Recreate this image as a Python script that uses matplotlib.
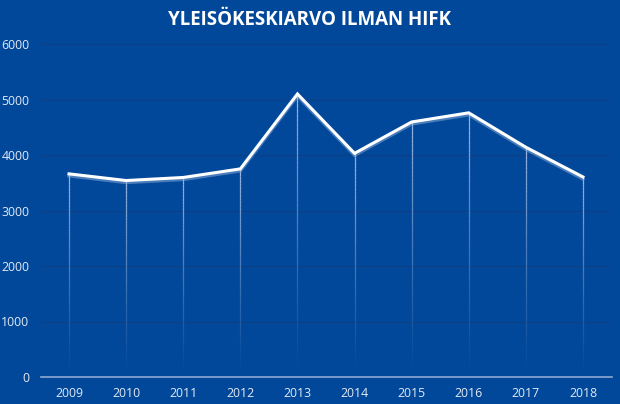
import numpy as np
import matplotlib
matplotlib.use("Agg")
import matplotlib.pyplot as plt
from matplotlib.collections import LineCollection

years = ['2009', '2010', '2011', '2012', '2013', '2014', '2015', '2016', '2017', '2018']
attendance = [3660, 3540, 3595, 3750, 5100, 4030, 4595, 4760, 4140, 3605]
yticks = [0, 1000, 2000, 3000, 4000, 5000, 6000]

bg = '#02489A'
plt.rcParams['font.family'] = ['Open Sans', 'DejaVu Sans']

fig = plt.figure(figsize=(6.2, 4.04), dpi=100, facecolor=bg)
ax = fig.add_axes([40.5 / 620, 1 - 377 / 404, 571 / 620, 333 / 404])
ax.set_facecolor(bg)

x = np.arange(len(years))

# drop lines fading towards the axis
for xi, yi in zip(x, attendance):
    n = 60
    ys = np.linspace(0, yi, n + 1)
    segs = [[(xi, ys[k]), (xi, ys[k + 1])] for k in range(n)]
    alphas = np.linspace(0.0, 0.75, n) ** 1.2
    cols = [(0.85, 0.9, 1, a) for a in alphas]
    ax.add_collection(LineCollection(segs, colors=cols, linewidths=0.9,
                                     capstyle='butt', zorder=2))

# soft shadow + main line
ax.plot(x, np.array(attendance) - 35, color='#8FB0DC', lw=2.5, alpha=0.5, zorder=3,
        solid_joinstyle='miter')
ax.plot(x, attendance, color='white', lw=2.2, zorder=4, solid_joinstyle='miter')

ax.set_xlim(-0.5, len(years) - 0.5)
ax.set_ylim(0, 6000)
ax.set_yticks(yticks)
ax.set_xticks(x)
ax.set_xticklabels(years)
ax.grid(axis='y', color='#0D3F85', lw=0.8, zorder=1)
ax.set_axisbelow(True)

for s in ['top', 'right', 'left']:
    ax.spines[s].set_visible(False)
ax.spines['bottom'].set_color('#8FA9D2')
ax.spines['bottom'].set_linewidth(1.2)
ax.tick_params(axis='both', length=0, colors='#E3EAF5', labelsize=8.8)
ax.tick_params(axis='y', pad=8)
ax.tick_params(axis='x', pad=7)

fig.text(0.5, 0.951, 'YLEISÖKESKIARVO ILMAN HIFK', ha='center', va='center',
         color='white', fontsize=13.5, fontweight='bold')

fig.savefig('out.png', dpi=100, facecolor=bg)
